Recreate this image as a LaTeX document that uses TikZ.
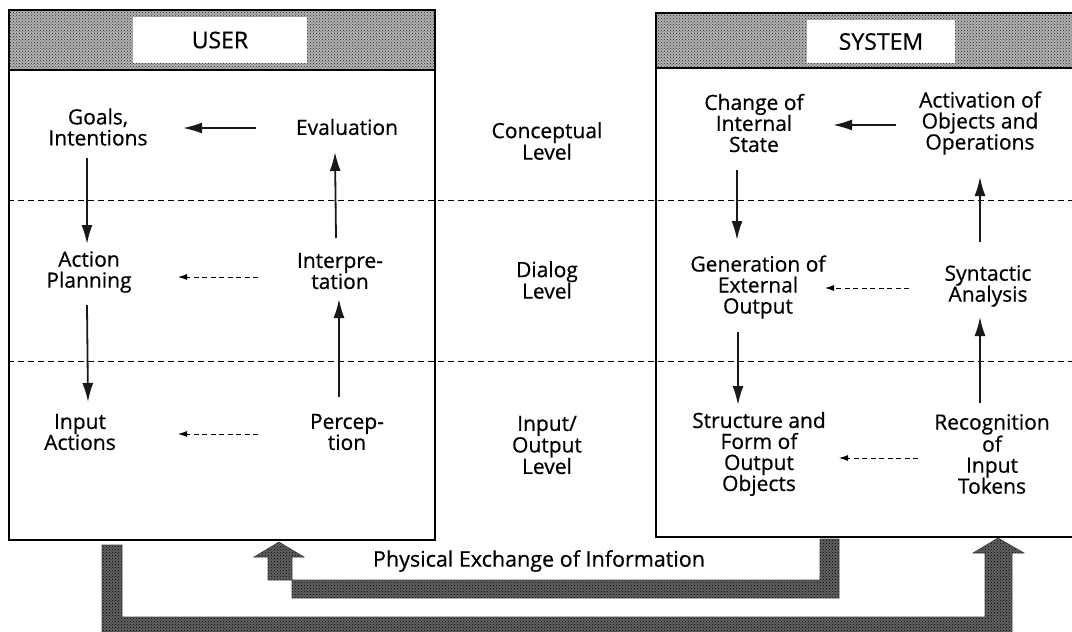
\documentclass[tikz,border=0pt]{standalone}
\usepackage{fontspec}
\setmainfont{Open Sans}[FakeBold=0.6]
\usetikzlibrary{arrows.meta,patterns}
\begin{document}
\begin{tikzpicture}[x=1pt,y=-1pt,
  txt/.style={align=center,inner sep=0pt,font=\fontsize{21}{21}\selectfont},
  lvl/.style={align=center,inner sep=0pt,font=\fontsize{21}{21.5}\selectfont},
  hdr/.style={preaction={fill=black!30},pattern=crosshatch dots,pattern color=black!85,draw=black,line width=1.6pt},
  lbl/.style={fill=white,draw=none,inner sep=0pt,font=\fontsize{23}{23}\selectfont},
  frame/.style={draw=black,line width=1.8pt},
  arr/.style={-{Latex[length=19pt,width=11pt]},line width=1.8pt,black!90},
  darr/.style={-{Latex[length=9pt,width=6pt]},line width=0.9pt,dash pattern=on 5pt off 3.5pt},
  sep/.style={line width=0.9pt,dash pattern=on 6pt off 4pt},
  wide/.style={preaction={fill=black!62},pattern=crosshatch dots,pattern color=black,draw=black!75,line width=0.6pt}]
\useasboundingbox (0,0) rectangle (1072,632);
% separators
\draw[sep] (8,200) -- (1072,200);
\draw[sep] (8,361) -- (1072,361);
% USER box
\draw[frame] (9,70) rectangle (435,540);
\draw[hdr] (9,10) rectangle (435,70);
\node[lbl,minimum width=174pt,minimum height=46pt] (user) at (220,40) {USER};
% SYSTEM box
\draw[frame] (656,68) rectangle (1076,537);
\draw[hdr] (656,13) rectangle (1076,68);
\node[lbl,minimum width=148pt,minimum height=43pt] (system) at (881,41.5) {SYSTEM};
% level labels
\node[lvl] (concl) at (547,141) {Conceptual\\Level};
\node[lvl] (diall) at (547,280) {Dialog\\Level};
\node[lvl] (iol) at (547,445) {Input/\\Output\\Level};
% USER nodes
\node[txt] (goals) at (98,127) {Goals,\\Intentions};
\node[txt] (eval) at (347,127) {Evaluation};
\node[txt] (plan) at (89,272) {Action\\Planning};
\node[txt] (interp) at (340,271) {Interpre-\\tation};
\node[txt] (inact) at (80,432) {Input\\Actions};
\node[txt] (perc) at (347,432) {Percep-\\tion};
% SYSTEM nodes
\node[txt] (change) at (754,123) {Change of\\Internal\\State};
\node[txt] (activ) at (980,123) {Activation of\\Objects and\\Operations};
\node[txt] (gener) at (758,287) {Generation of\\External\\Output};
\node[txt] (synt) at (988,286) {Syntactic\\Analysis};
\node[txt] (struct) at (759,454) {Structure and\\Form of\\Output\\Objects};
\node[txt] (recog) at (992,454) {Recognition\\of\\Input\\Tokens};
% USER arrows
\draw[arr] ([shift={(-91,1)}]eval.center) -- ([shift={(85,1)}]goals.center);
\draw[arr] ([shift={(-11,31)}]goals.center) -- ([shift={(-2,-28)}]plan.center);
\draw[arr] ([shift={(-2,33)}]plan.center) -- ([shift={(8,-30)}]inact.center);
\draw[arr] ([shift={(-8,-35)}]perc.center) -- ([shift={(-1,28)}]interp.center);
\draw[arr] ([shift={(-4,-33)}]interp.center) -- ([shift={(-12,25)}]eval.center);
\draw[darr] ([shift={(-82,6)}]interp.center) -- ([shift={(89,5)}]plan.center);
\draw[darr] ([shift={(-89,2)}]perc.center) -- ([shift={(98,2)}]inact.center);
% SYSTEM arrows
\draw[arr] ([shift={(-84,2)}]activ.center) -- ([shift={(79,2)}]change.center);
\draw[arr] ([shift={(-17,47)}]change.center) -- ([shift={(-21,-47)}]gener.center);
\draw[arr] ([shift={(-20,45)}]gener.center) -- ([shift={(-21,-49)}]struct.center);
\draw[arr] ([shift={(-12,-51)}]recog.center) -- ([shift={(-8,31)}]synt.center);
\draw[arr] ([shift={(-8,-44)}]synt.center) -- ([shift={(0,54)}]activ.center);
\draw[darr] ([shift={(-79,2)}]synt.center) -- ([shift={(67,1)}]gener.center);
\draw[darr] ([shift={(-74,4)}]recog.center) -- ([shift={(80,4)}]struct.center);
% physical exchange
\node[font=\fontsize{21.5}{21.5}\selectfont,inner sep=0pt] (phys) at (539,561) {Physical Exchange of Information};
\draw[wide] (820,539) -- (839,539) -- (839,598) -- (292,598) -- (292,557) -- (304,557)
  -- (279,542) -- (254,557) -- (268,557) -- (268,580) -- (820,580) -- cycle;
\draw[wide] (102,545) -- (122,545) -- (122,617) -- (985,617) -- (985,553) -- (973,553)
  -- (998,538) -- (1024,553) -- (1012,553) -- (1012,633) -- (102,633) -- cycle;
\end{tikzpicture}
\end{document}
